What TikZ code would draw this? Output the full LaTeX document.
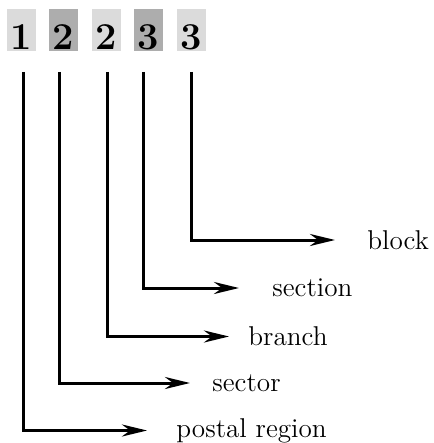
\documentclass[tikz,border=0pt]{standalone}
\usetikzlibrary{arrows.meta}
\tikzset{
	digit/.style={inner sep=0, minimum width=14.5pt, text height=20.5pt, text depth=0.5pt, font=\fontsize{19}{21}\selectfont\bfseries},
	lab/.style={inner sep=0, anchor=west, font=\fontsize{13.6}{16}\selectfont},
	conn/.style={line width=1.5pt, -{Stealth[length=12.5pt,width=6pt,inset=4pt]}}
}

\begin{document}
\begin{tikzpicture}[x=0.5pt, y=-0.5pt]
			%%%%% START %%%%%
			
			\useasboundingbox (0, 0) rectangle (433, 443);
			
			\node[digit, fill=black!14] (d1) at (21.5, 30) {1};
			\node[digit, fill=black!32] (d2) at (63.5, 30) {2};
			\node[digit, fill=black!14] (d3) at (106.5, 30) {2};
			\node[digit, fill=black!32] (d4) at (148.5, 30) {3};
			\node[digit, fill=black!14] (d5) at (191.5, 30) {3};
			
			\coordinate (s1) at (23, 72);
			\coordinate (s2) at (59.5, 72);
			\coordinate (s3) at (107, 72);
			\coordinate (s4) at (143.5, 72);
			\coordinate (s5) at (191.5, 72);
			
			\coordinate (e1) at (147, 430.5);
			\coordinate (e2) at (190, 383);
			\coordinate (e3) at (229, 336.5);
			\coordinate (e4) at (239, 288);
			\coordinate (e5) at (335, 240);
			
			\node[lab] (l1) at (176, 430.5) {postal region};
			\node[lab] (l2) at (212, 383) {sector};
			\node[lab] (l3) at (248, 336.5) {branch};
			\node[lab] (l4) at (272, 288) {section};
			\node[lab] (l5) at (367, 240) {block};
			
			\draw[conn] (s1) |- (e1);
			\draw[conn] (s2) |- (e2);
			\draw[conn] (s3) |- (e3);
			\draw[conn] (s4) |- (e4);
			\draw[conn] (s5) |- (e5);
			
			%%%%% END %%%%%
\end{tikzpicture}
\end{document}
